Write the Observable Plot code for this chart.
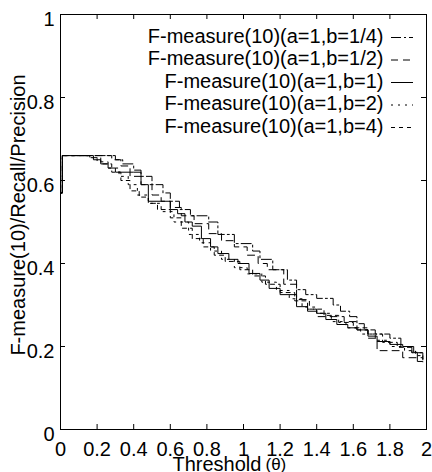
<!DOCTYPE html>
<html><head><meta charset="utf-8">
<script src="https://cdn.jsdelivr.net/npm/d3@7"></script>
<script src="https://cdn.jsdelivr.net/npm/@observablehq/plot@0.6"></script>
<style>body{margin:0;background:#fff;} svg{display:block}</style>
</head><body><div id="chart"></div>
<script>
const xTicks = [0, 0.2, 0.4, 0.6, 0.8, 1, 1.2, 1.4, 1.6, 1.8, 2];
const yTicks = [0, 0.2, 0.4, 0.6, 0.8, 1];
const seriesLabels = [
  "F-measure(10)(a=1,b=1/4)",
  "F-measure(10)(a=1,b=1/2)",
  "F-measure(10)(a=1,b=1)",
  "F-measure(10)(a=1,b=2)",
  "F-measure(10)(a=1,b=4)"
];
const seriesDash = ["10,3,2,3", "7,5", null, "2,5", "4,4"];

// b = 1/4 (dash-dot)
const thetaB14 = [0, 0.01, 0.26, 0.30, 0.34, 0.40, 0.44, 0.50, 0.56, 0.60, 0.65, 0.71, 0.81, 0.86, 0.95, 1.05, 1.09, 1.16, 1.24, 1.29, 1.34, 1.40, 1.49, 1.53, 1.58, 1.62, 1.66, 1.72, 1.80, 1.86, 1.92, 1.98];
const fB14     = [0.57, 0.66, 0.66, 0.65, 0.64, 0.625, 0.61, 0.59, 0.57, 0.55, 0.53, 0.515, 0.50, 0.47, 0.448, 0.43, 0.41, 0.385, 0.36, 0.337, 0.325, 0.316, 0.30, 0.285, 0.272, 0.255, 0.24, 0.23, 0.22, 0.20, 0.185, 0.168];
// b = 1/2 (dashed)
const thetaB12 = [0, 0.01, 0.22, 0.28, 0.33, 0.38, 0.44, 0.50, 0.55, 0.60, 0.66, 0.73, 0.81, 0.88, 0.95, 1.02, 1.08, 1.13, 1.22, 1.29, 1.35, 1.40, 1.49, 1.55, 1.62, 1.68, 1.73, 1.80, 1.87, 1.98];
const fB12     = [0.57, 0.66, 0.66, 0.65, 0.635, 0.61, 0.59, 0.565, 0.55, 0.535, 0.515, 0.496, 0.472, 0.455, 0.44, 0.42, 0.40, 0.385, 0.35, 0.313, 0.29, 0.272, 0.272, 0.26, 0.24, 0.22, 0.19, 0.19, 0.173, 0.17];
// b = 1 (solid)
const thetaB1 = [0, 0.01, 0.18, 0.22, 0.26, 0.30, 0.40, 0.44, 0.48, 0.60, 0.64, 0.68, 0.72, 0.77, 0.82, 0.86, 0.92, 0.97, 1.03, 1.09, 1.14, 1.20, 1.29, 1.35, 1.40, 1.45, 1.51, 1.57, 1.62, 1.68, 1.73, 1.80, 1.87, 1.93, 1.95, 1.98];
const fB1     = [0.57, 0.66, 0.65, 0.64, 0.63, 0.62, 0.62, 0.59, 0.55, 0.53, 0.52, 0.50, 0.49, 0.46, 0.44, 0.424, 0.41, 0.40, 0.376, 0.36, 0.34, 0.325, 0.296, 0.285, 0.28, 0.265, 0.253, 0.245, 0.24, 0.225, 0.212, 0.205, 0.20, 0.186, 0.164, 0.163];
// b = 2 (dotted)
const thetaB2 = [0, 0.01, 0.15, 0.20, 0.26, 0.32, 0.37, 0.42, 0.48, 0.55, 0.62, 0.70, 0.76, 0.82, 0.88, 0.95, 1.02, 1.10, 1.18, 1.25, 1.32, 1.40, 1.48, 1.56, 1.64, 1.72, 1.80, 1.88, 1.94, 1.98];
const fB2     = [0.57, 0.66, 0.655, 0.645, 0.63, 0.61, 0.59, 0.565, 0.545, 0.525, 0.50, 0.47, 0.45, 0.43, 0.41, 0.39, 0.375, 0.355, 0.335, 0.315, 0.295, 0.28, 0.26, 0.245, 0.23, 0.215, 0.20, 0.19, 0.178, 0.172];
// b = 4 (short dashed)
const thetaB4 = [0, 0.01, 0.16, 0.22, 0.28, 0.33, 0.38, 0.43, 0.48, 0.53, 0.60, 0.66, 0.72, 0.78, 0.84, 0.90, 0.98, 1.05, 1.12, 1.20, 1.28, 1.36, 1.44, 1.52, 1.60, 1.68, 1.76, 1.84, 1.92, 1.98];
const fB4     = [0.57, 0.66, 0.655, 0.64, 0.62, 0.60, 0.575, 0.56, 0.545, 0.53, 0.51, 0.485, 0.46, 0.44, 0.42, 0.405, 0.385, 0.37, 0.35, 0.33, 0.31, 0.29, 0.275, 0.258, 0.245, 0.23, 0.21, 0.198, 0.185, 0.175];

const thetas = [thetaB14, thetaB12, thetaB1, thetaB2, thetaB4];
const values = [fB14, fB12, fB1, fB2, fB4];
const series = seriesLabels.map((label, i) => ({
  label, dash: seriesDash[i],
  data: thetas[i].map((t, j) => ({theta: t, f: values[i][j]}))
}));

const W = 432, H = 472, mL = 60, mR = 6, mT = 14, mB = 43;
const innerW = W - mL - mR, innerH = H - mT - mB;
const font = "'Liberation Sans', Arial, Helvetica, sans-serif";

const chart = Plot.plot({
  width: W, height: H,
  marginLeft: mL, marginRight: mR, marginTop: mT, marginBottom: mB,
  style: {fontFamily: font, fontSize: "20px", color: "black", background: "white", overflow: "visible"},
  x: {domain: [0, 2]},
  y: {domain: [0, 1]},
  marks: [
    Plot.axisX({ticks: xTicks, tickSize: 0, tickPadding: 12, tickFormat: d => String(d), label: null, fontSize: 20}),
    Plot.axisY({ticks: yTicks, tickSize: 0, tickPadding: 6, dy: 5, tickFormat: d => String(d), label: null, fontSize: 20}),
    Plot.tickX(xTicks, {x: d => d, insetTop: innerH - 5, stroke: "black"}),
    Plot.tickX(xTicks, {x: d => d, insetBottom: innerH - 5, stroke: "black"}),
    Plot.tickY(yTicks, {y: d => d, insetRight: innerW - 5, stroke: "black"}),
    Plot.tickY(yTicks, {y: d => d, insetLeft: innerW - 5, stroke: "black"}),
    ...series.map(s => Plot.line(s.data, {
      x: "theta", y: "f", curve: "step-after", stroke: "black", strokeWidth: 1,
      strokeDasharray: s.dash || undefined
    })),
    ...series.map((s, i) => Plot.text([s.label], {
      frameAnchor: "top-right", dx: -43, dy: 22 + i * 22.5, textAnchor: "end",
      lineAnchor: "middle", fontSize: 20, fill: "black"
    })),
    ...series.map((s, i) => Plot.tickY([1], {
      y: d => d, dy: 23 + i * 22.5, insetLeft: 331, insetRight: 13,
      stroke: "black", strokeWidth: 1, strokeDasharray: s.dash || undefined
    })),
    Plot.text(["F-measure(10)/Recall/Precision"], {
      frameAnchor: "left", rotate: -90, dx: -42, dy: -7, fontSize: 20, fill: "black",
      textAnchor: "middle", lineAnchor: "middle"
    }),
    Plot.text(["Threshold"], {
      frameAnchor: "bottom", dx: -71, dy: 41, textAnchor: "start", fontSize: 20, fill: "black",
      lineAnchor: "bottom"
    }),
    Plot.text(["(θ)"], {
      frameAnchor: "bottom", dx: 22, dy: 40, textAnchor: "start", fontSize: 17, fill: "black",
      lineAnchor: "bottom"
    }),
    Plot.frame({stroke: "black", strokeWidth: 1})
  ]
});
document.getElementById("chart").appendChild(chart);
</script>
</body></html>
